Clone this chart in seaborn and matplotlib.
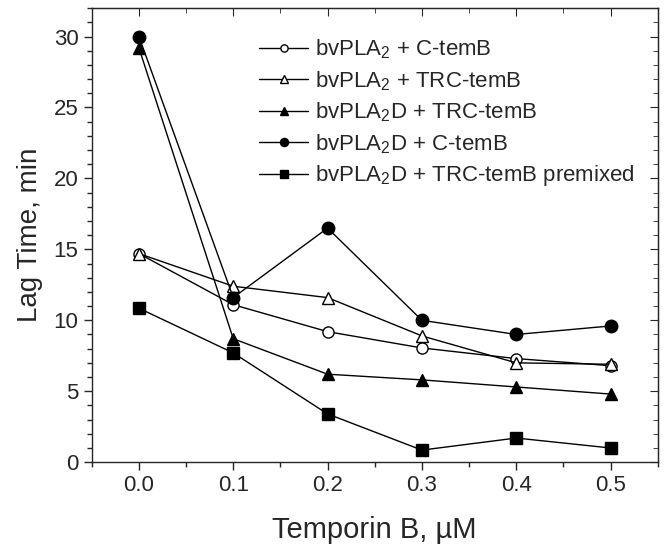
import matplotlib
matplotlib.use("Agg")
import matplotlib.pyplot as plt
from matplotlib.ticker import MultipleLocator
import seaborn as sns
import pandas as pd

# data
conc = [0.0, 0.1, 0.2, 0.3, 0.4, 0.5]
pla2_c = [14.7, 11.1, 9.2, 8.05, 7.3, 6.8]
pla2_trc = [14.7, 12.4, 11.6, 8.9, 7.0, 6.9]
pla2d_trc = [29.2, 8.7, 6.2, 5.8, 5.3, 4.8]
pla2d_c = [30.0, 11.6, 16.5, 10.0, 9.0, 9.6]
pla2d_trc_pre = [10.85, 7.7, 3.4, 0.85, 1.7, 1.0]

labels = [r"bvPLA$_2$ + C-temB",
          r"bvPLA$_2$ + TRC-temB",
          r"bvPLA$_2$D + TRC-temB",
          r"bvPLA$_2$D + C-temB",
          r"bvPLA$_2$D + TRC-temB premixed"]
series = [pla2_c, pla2_trc, pla2d_trc, pla2d_c, pla2d_trc_pre]

# marker, face colour, size
styles = [("o", "white", 8), ("^", "white", 9), ("^", "black", 9),
          ("o", "black", 9), ("s", "black", 8)]

sns.set_style("ticks")
plt.rcParams["font.family"] = ["Liberation Sans", "DejaVu Sans"]
plt.rcParams["mathtext.default"] = "regular"

fig = plt.figure(figsize=(6.65, 5.45), dpi=100)
ax = fig.add_axes([0.138, 0.152, 0.851, 0.833])

for vals, lab, (mk, fc, ms) in zip(series, labels, styles):
    df = pd.DataFrame({"conc": conc, "lag": vals})
    sns.lineplot(data=df, x="conc", y="lag", ax=ax, color="black", lw=1.0,
                 marker=mk, markerfacecolor=fc, markeredgecolor="black",
                 markeredgewidth=1.0, markersize=ms, label=lab)

ax.set_xlim(-0.05, 0.55)
ax.set_ylim(0, 32)
ax.xaxis.set_major_locator(MultipleLocator(0.1))
ax.xaxis.set_minor_locator(MultipleLocator(0.05))
ax.yaxis.set_major_locator(MultipleLocator(5))
ax.yaxis.set_minor_locator(MultipleLocator(1))
ax.xaxis.set_major_formatter(plt.FuncFormatter(lambda v, _: f"{v:.1f}"))
ax.tick_params(which="major", direction="out", length=6, width=1, labelsize=16)
ax.tick_params(which="minor", direction="out", length=3.5, width=1)
for s in ax.spines.values():
    s.set_linewidth(1.0)

# inward ticks on top and right
top = ax.secondary_xaxis("top")
top.xaxis.set_major_locator(MultipleLocator(0.1))
top.xaxis.set_minor_locator(MultipleLocator(0.05))
top.tick_params(which="major", direction="in", length=6, labeltop=False)
top.tick_params(which="minor", direction="in", length=3.5)
right = ax.secondary_yaxis("right")
right.yaxis.set_major_locator(MultipleLocator(5))
right.yaxis.set_minor_locator(MultipleLocator(1))
right.tick_params(which="major", direction="in", length=6, labelright=False)
right.tick_params(which="minor", direction="in", length=3.5)

ax.set_xlabel("Temporin B, µM", fontsize=21, labelpad=14)
ax.set_ylabel("Lag Time, min", fontsize=20, labelpad=8)

ax.legend(loc="upper right", bbox_to_anchor=(0.983, 0.964), frameon=False,
          fontsize=16, handlelength=2.2, handletextpad=0.3, labelspacing=0.35,
          markerscale=0.65, borderaxespad=0.2)

fig.savefig("out.png", dpi=100)
